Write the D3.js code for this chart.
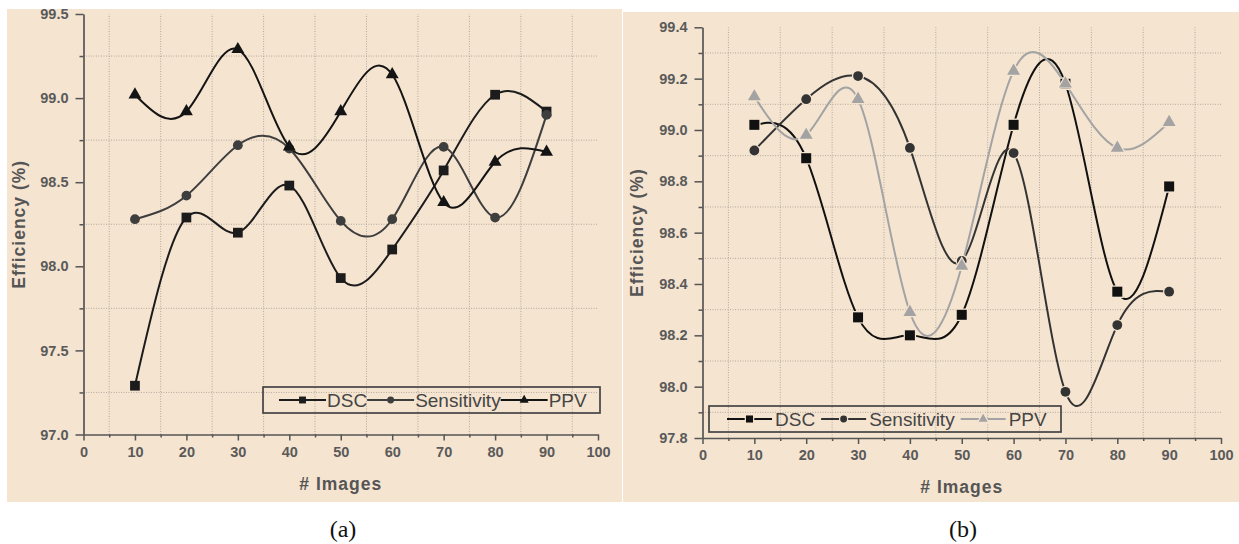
<!DOCTYPE html>
<html>
<head>
<meta charset="utf-8">
<script src="https://cdn.jsdelivr.net/npm/d3@7"></script>
<style>
body { margin: 0; background: #fff; }
</style>
</head>
<body>
<div id="chart"></div>
<script>
// values
var images = [10, 20, 30, 40, 50, 60, 70, 80, 90];
var seriesNames = ["DSC", "Sensitivity", "PPV"];

// panel (a)
var dscA  = [97.29, 98.29, 98.20, 98.48, 97.93, 98.10, 98.57, 99.02, 98.92];
var sensA = [98.28, 98.42, 98.72, 98.70, 98.27, 98.28, 98.71, 98.29, 98.90];
var ppvA  = [99.02, 98.92, 99.29, 98.71, 98.92, 99.14, 98.38, 98.62, 98.68];

// panel (b)
var dscB  = [99.02, 98.89, 98.27, 98.20, 98.28, 99.02, 99.18, 98.37, 98.78];
var sensB = [98.92, 99.12, 99.21, 98.93, 98.49, 98.91, 97.98, 98.24, 98.37];
var ppvB  = [99.13, 98.98, 99.12, 98.29, 98.47, 99.23, 99.18, 98.93, 99.03];

// ticks
var xTicks  = [0, 10, 20, 30, 40, 50, 60, 70, 80, 90, 100];
var xMinor  = [5, 15, 25, 35, 45, 55, 65, 75, 85, 95];
var yTicksA = [97.0, 97.5, 98.0, 98.5, 99.0, 99.5];
var yMinorA = [97.25, 97.75, 98.25, 98.75, 99.25];
var yTicksB = [97.8, 98.0, 98.2, 98.4, 98.6, 98.8, 99.0, 99.2, 99.4];
var yMinorB = [97.9, 98.1, 98.3, 98.5, 98.7, 98.9, 99.1, 99.3];

var svgWidth = 1239;
var svgHeight = 544;
var bg = "#f5e4d0";
var sans = "'Liberation Sans', Arial, sans-serif";

var svg = d3.select("#chart")
  .append("svg")
  .attr("width", svgWidth)
  .attr("height", svgHeight);

svg.append("rect").attr("width", svgWidth).attr("height", svgHeight).attr("fill", "#fff");

var symbols = [d3.symbolSquare, d3.symbolCircle, d3.symbolTriangle];

function drawPanel(p) {
  var clipId = "clip" + p.id;
  svg.append("clipPath").attr("id", clipId)
    .append("rect")
    .attr("x", p.box[0]).attr("y", p.box[1])
    .attr("width", p.box[2] - p.box[0]).attr("height", p.box[3] - p.box[1]);

  var g = svg.append("g").attr("clip-path", "url(#" + clipId + ")");

  g.append("rect")
    .attr("x", p.box[0]).attr("y", p.box[1])
    .attr("width", p.box[2] - p.box[0]).attr("height", p.box[3] - p.box[1])
    .attr("fill", bg);

  var xScale = d3.scaleLinear().domain([0, 100]).range([p.x0, p.x1]);
  var yScale = d3.scaleLinear().domain(p.yDomain).range([p.y0, p.y1]);

  // dotted grid on the minor positions
  g.selectAll(".vgrid").data(xMinor).enter().append("line")
    .attr("x1", d => xScale(d)).attr("x2", d => xScale(d))
    .attr("y1", p.y0).attr("y2", p.y1)
    .attr("stroke", "#b3a99e").attr("stroke-width", 1).attr("stroke-dasharray", "1,1.5");
  g.selectAll(".hgrid").data(p.yMinor).enter().append("line")
    .attr("x1", p.x0).attr("x2", p.x1)
    .attr("y1", d => yScale(d)).attr("y2", d => yScale(d))
    .attr("stroke", "#b3a99e").attr("stroke-width", 1).attr("stroke-dasharray", "1,1.5");

  // axes
  var axisColor = "#555";
  var bottom = g.append("g")
    .attr("transform", "translate(0," + p.y0 + ")")
    .call(d3.axisBottom(xScale).tickValues(xTicks).tickSize(6).tickSizeOuter(0).tickPadding(6)
      .tickFormat(d3.format("d")));
  var bottomMinor = g.append("g")
    .attr("transform", "translate(0," + p.y0 + ")")
    .call(d3.axisBottom(xScale).tickValues(xMinor).tickSize(3).tickFormat(""));
  var left = g.append("g")
    .attr("transform", "translate(" + p.x0 + ",0)")
    .call(d3.axisLeft(yScale).tickValues(p.yTicks).tickSize(8).tickSizeOuter(0).tickPadding(7)
      .tickFormat(d3.format(".1f")));
  var leftMinor = g.append("g")
    .attr("transform", "translate(" + p.x0 + ",0)")
    .call(d3.axisLeft(yScale).tickValues(p.yMinor).tickSize(4).tickFormat(""));

  [bottom, bottomMinor, left, leftMinor].forEach(function(a) {
    a.attr("font-family", sans).attr("font-size", 14.5).attr("font-weight", "bold");
    a.select(".domain").attr("stroke", axisColor).attr("stroke-width", 1.7);
    a.selectAll("line").attr("stroke", axisColor).attr("stroke-width", 1.5);
    a.selectAll("text").attr("fill", "#5a5a5a");
  });
  bottomMinor.select(".domain").remove();
  leftMinor.select(".domain").remove();

  // series lines and markers
  p.series.forEach(function(s, i) {
    var pts = images.map(function(d, j) { return [d, s.values[j]]; });
    var line = d3.line()
      .x(d => xScale(d[0]))
      .y(d => yScale(d[1]))
      .curve(d3.curveNatural);
    g.append("path")
      .datum(pts)
      .attr("d", line)
      .attr("fill", "none")
      .attr("stroke", s.color)
      .attr("stroke-width", 2);
  });
  p.series.forEach(function(s, i) {
    g.selectAll(".m" + i).data(images).enter().append("path")
      .attr("transform", (d, j) => "translate(" + xScale(d) + "," + yScale(s.values[j]) + ")")
      .attr("d", d3.symbol().type(symbols[i]).size(s.size))
      .attr("fill", s.color)
      .attr("stroke", p.halo ? bg : "none")
      .attr("stroke-width", p.halo ? 2.5 : 0)
      .attr("paint-order", "stroke");
  });

  // legend
  var lg = g.append("g");
  lg.append("rect")
    .attr("x", p.legend.x0).attr("y", p.legend.y0)
    .attr("width", p.legend.x1 - p.legend.x0).attr("height", p.legend.y1 - p.legend.y0)
    .attr("fill", "none").attr("stroke", "#444").attr("stroke-width", 1.7);
  var cy = (p.legend.y0 + p.legend.y1) / 2;
  var cx = p.legend.start;
  p.series.forEach(function(s, i) {
    var segLen = p.legend.seg;
    lg.append("line")
      .attr("x1", cx).attr("x2", cx + segLen)
      .attr("y1", cy).attr("y2", cy)
      .attr("stroke", s.color).attr("stroke-width", 2);
    lg.append("path")
      .attr("transform", "translate(" + (cx + segLen / 2) + "," + cy + ")")
      .attr("d", d3.symbol().type(symbols[i]).size(s.size * 0.5))
      .attr("fill", s.color)
      .attr("stroke", p.halo ? bg : "none")
      .attr("stroke-width", p.halo ? 2.5 : 0)
      .attr("paint-order", "stroke");
    cx += segLen + p.legend.gapIn;
    var t = lg.append("text")
      .attr("x", cx).attr("y", cy + 7)
      .attr("font-family", sans)
      .attr("font-size", "19px")
      .attr("fill", "#454545")
      .text(seriesNames[i]);
    cx += t.node().getComputedTextLength() + p.legend.gapOut;
  });

  // axis titles
  g.append("text")
    .attr("x", (p.x0 + p.x1) / 2)
    .attr("y", p.y0 + 55)
    .attr("text-anchor", "middle")
    .attr("font-family", sans)
    .attr("font-weight", "bold")
    .attr("font-size", "17.5px")
    .attr("letter-spacing", "1px")
    .attr("fill", "#555")
    .text("# Images");
  g.append("text")
    .attr("transform", "translate(" + p.yLabelX + "," + ((p.y0 + p.y1) / 2) + ") rotate(-90)")
    .attr("text-anchor", "middle")
    .attr("dy", "0.35em")
    .attr("font-family", sans)
    .attr("font-weight", "bold")
    .attr("font-size", "17.5px")
    .attr("letter-spacing", "1px")
    .attr("fill", "#555")
    .text("Efficiency (%)");

  // caption under the panel
  svg.append("text")
    .attr("x", p.captionX)
    .attr("y", 537)
    .attr("text-anchor", "middle")
    .attr("font-family", "'Liberation Serif', 'Times New Roman', serif")
    .attr("font-size", "24px")
    .attr("fill", "#111")
    .text(p.caption);
}

drawPanel({
  id: "a",
  box: [7, 9, 622, 502],
  x0: 83.5, x1: 598, y0: 434.5, y1: 14,
  yDomain: [97.0, 99.5], yTicks: yTicksA, yMinor: yMinorA,
  yLabelX: 19,
  halo: false,
  series: [
    { values: dscA,  color: "#1c1c1c", size: 95 },
    { values: sensA, color: "#3e3e3e", size: 75 },
    { values: ppvA,  color: "#141414", size: 72 }
  ],
  legend: { x0: 263, x1: 600, y0: 387, y1: 413, start: 279, seg: 47, gapIn: 1, gapOut: 0 },
  caption: "(a)", captionX: 343
});

drawPanel({
  id: "b",
  box: [623, 12, 1239, 502],
  x0: 702.5, x1: 1221, y0: 438, y1: 27.3,
  yDomain: [97.8, 99.4], yTicks: yTicksB, yMinor: yMinorB,
  yLabelX: 637,
  halo: true,
  series: [
    { values: dscB,  color: "#111111", size: 100 },
    { values: sensB, color: "#333333", size: 75 },
    { values: ppvB,  color: "#a3a3a3", size: 72 }
  ],
  legend: { x0: 709, x1: 1061, y0: 406, y1: 432, start: 727, seg: 45, gapIn: 3, gapOut: 6 },
  caption: "(b)", captionX: 963
});
</script>
</body>
</html>
